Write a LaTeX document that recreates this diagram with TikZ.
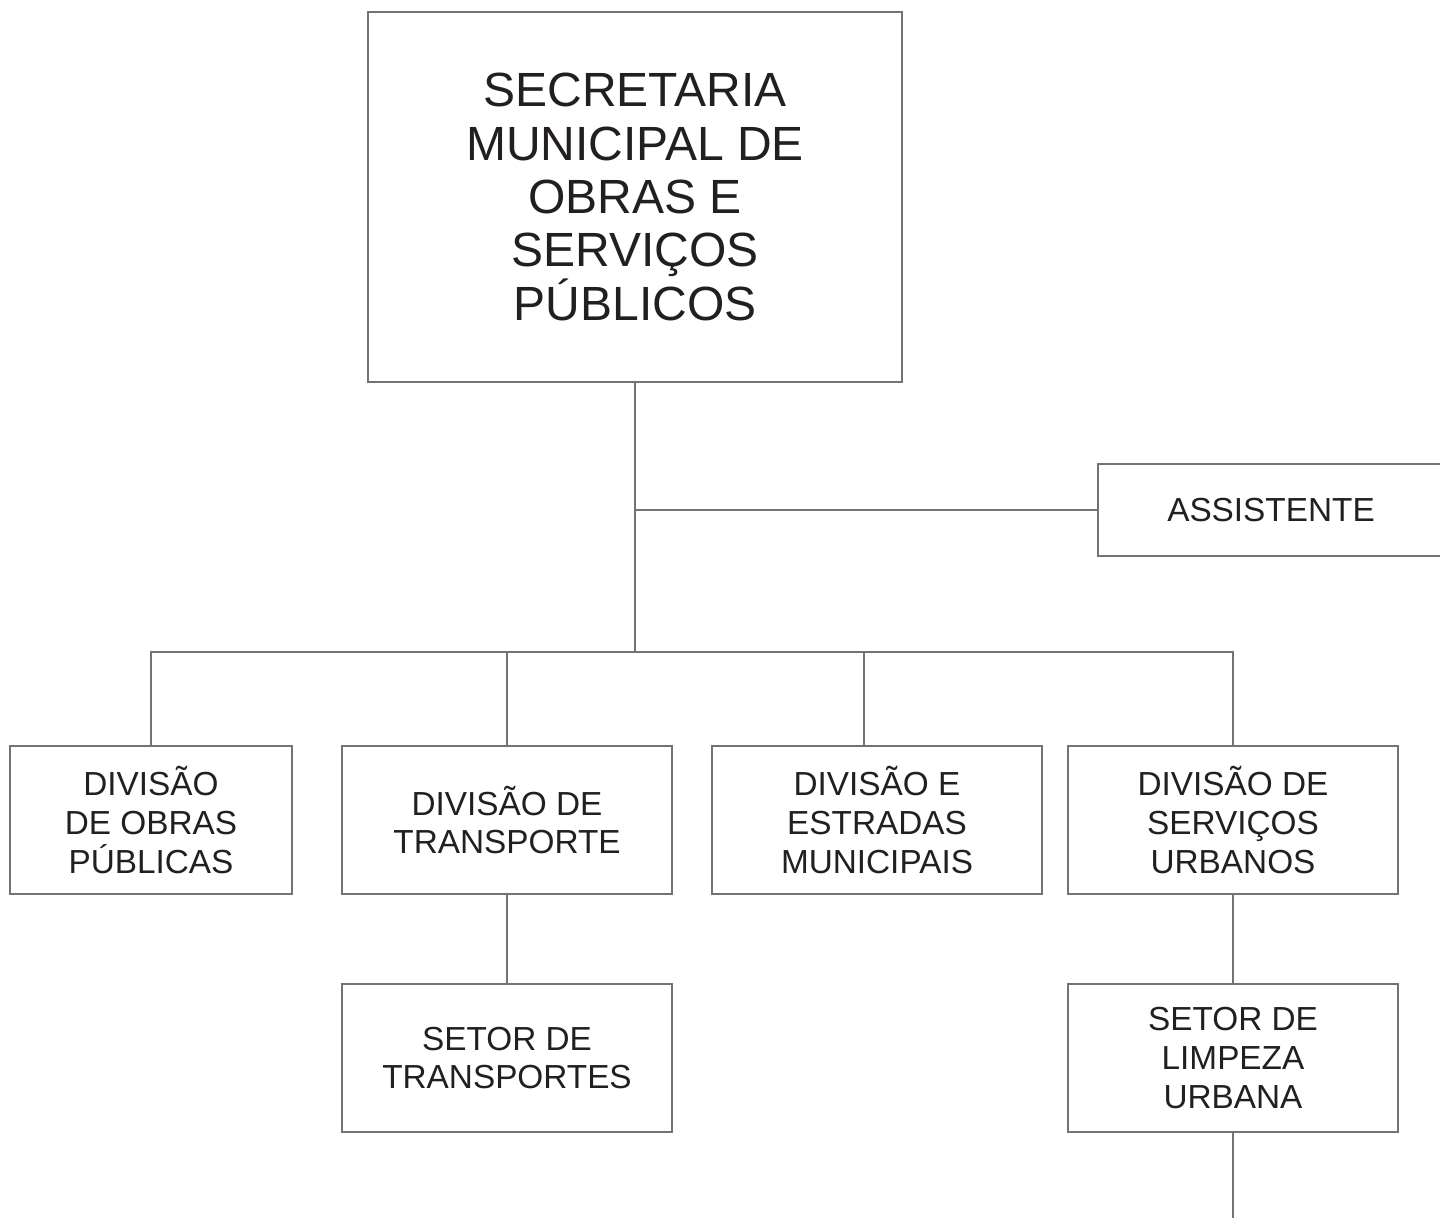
\documentclass[tikz,border=0pt]{standalone}
\usepackage{fontspec}
\setmainfont{Liberation Sans}
\definecolor{linha}{rgb}{0.45,0.45,0.45}
\definecolor{texto}{rgb}{0.137,0.122,0.125}
\tikzset{
  caixa/.style={draw=linha, line width=1.1pt, fill=white, align=center,
    inner sep=0pt, text=texto, font=\fontsize{25pt}{29pt}\selectfont},
  divisao/.style={caixa, minimum width=247.5pt, minimum height=111pt},
  ligacao/.style={draw=linha, line width=1.1pt}
}

\begin{document}
\begin{tikzpicture}[x=0.75pt,y=-0.75pt]
\useasboundingbox (0,0) rectangle (1440,1218);
% secretaria
\node[caixa, minimum width=400.5pt, minimum height=277.5pt,
  font=\fontsize{36pt}{40pt}\selectfont] (secretaria) at (635,197)
  {SECRETARIA\\MUNICIPAL DE\\OBRAS E\\SERVIÇOS\\PÚBLICOS};
\node[caixa, minimum width=259.5pt, minimum height=69pt] (assistente) at (1271,510) {ASSISTENTE};
% divisoes
\node[divisao, minimum width=211.5pt] (divobras) at (151,820) {DIVISÃO\\DE OBRAS\\PÚBLICAS};
\node[divisao] (divtransp) at (507,820) {DIVISÃO DE\\TRANSPORTE};
\node[divisao] (divestradas) at (877,820) {DIVISÃO E\\ESTRADAS\\MUNICIPAIS};
\node[divisao] (divservicos) at (1233,820) {DIVISÃO DE\\SERVIÇOS\\URBANOS};
% setores
\node[divisao] (settransp) at (507,1058) {SETOR DE\\TRANSPORTES};
\node[divisao] (setlimpeza) at (1233,1058) {SETOR DE\\LIMPEZA\\URBANA};
\coordinate (barra) at (636,652);
\coordinate (fim) at (1233,1220);
% ligacoes
\draw[ligacao] (secretaria.south) -- (secretaria.south |- barra);
\draw[ligacao] (secretaria.south |- assistente) -- (assistente);
\draw[ligacao] (divobras.north) -- (divobras.north |- barra) -- (divservicos.north |- barra) -- (divservicos.north);
\draw[ligacao] (divtransp.north) -- (divtransp.north |- barra);
\draw[ligacao] ([xshift=-9.75pt]divestradas.north) -- ([xshift=-9.75pt]divestradas.north |- barra);
\draw[ligacao] (divtransp) -- (settransp);
\draw[ligacao] (divservicos) -- (setlimpeza);
\draw[ligacao] (setlimpeza) -- (fim);
\end{tikzpicture}
\end{document}
